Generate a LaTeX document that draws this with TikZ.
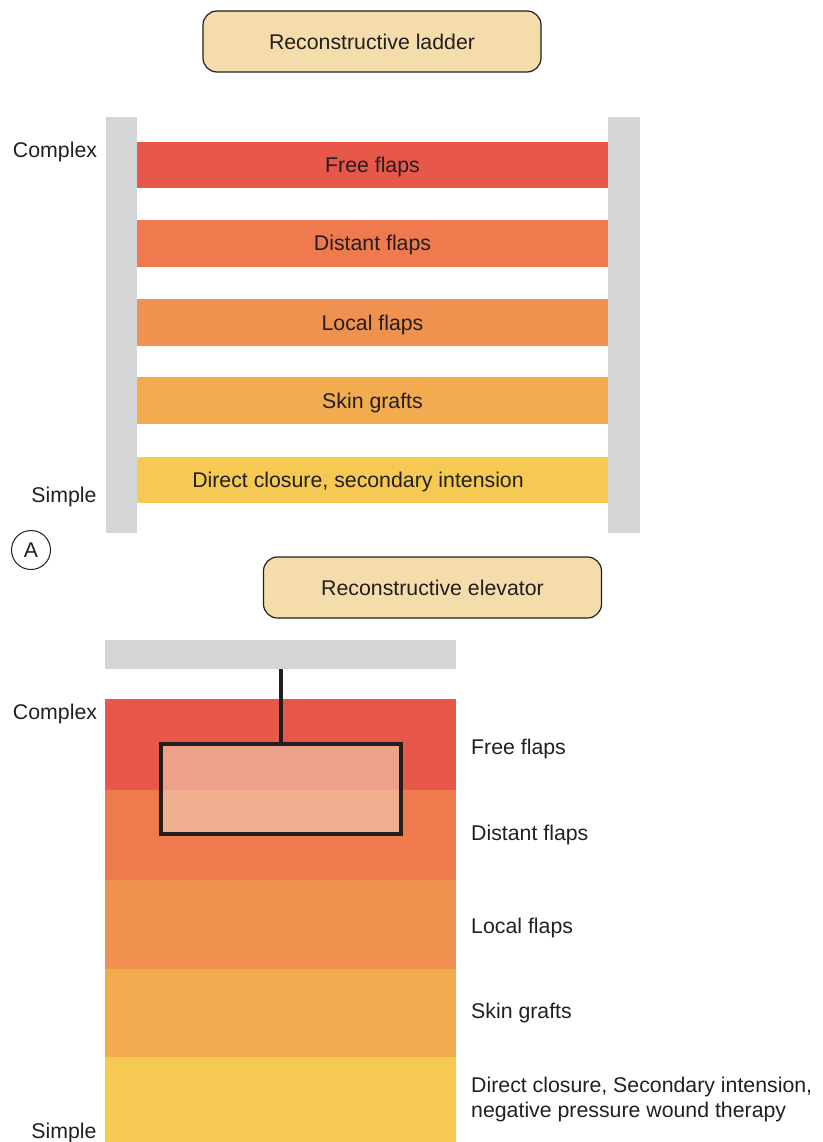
\documentclass[tikz,border=0pt]{standalone}
\usepackage{fontspec}
\setmainfont{Liberation Sans}
\begin{document}
\definecolor{txt}{HTML}{231F20}
\definecolor{rail}{HTML}{D4D5D7}
\definecolor{cfree}{HTML}{E8584A}
\definecolor{cdist}{HTML}{EE7A4E}
\definecolor{clocal}{HTML}{F0924F}
\definecolor{cskin}{HTML}{F3AB50}
\definecolor{cdirect}{HTML}{F5C952}
\definecolor{titlefill}{HTML}{F5DDAB}
\definecolor{carfree}{HTML}{EDA08A}
\definecolor{cardist}{HTML}{F0AF8E}
\begin{tikzpicture}[x=1pt,y=-1pt,
  every node/.style={text=txt,font=\fontsize{21.3}{25}\selectfont,inner sep=0pt},
  titlebox/.style={draw=txt,line width=1.2pt,fill=titlefill,rounded corners=14pt,
    minimum width=338pt,minimum height=61pt},
  railbar/.style={fill=rail},
  lbl/.style={anchor=west}]
\useasboundingbox (0,0) rectangle (822,1142);

% --- Ladder ---
\node[titlebox] (ladder) at (372,41.5) {Reconstructive ladder};
\fill[railbar] (106,117) rectangle (137,533);
\fill[railbar] (608,117) rectangle (640,533);
\fill[cfree]   (137,142) rectangle (608,188);
\fill[cdist]   (137,220) rectangle (608,267);
\fill[clocal]  (137,299) rectangle (608,346);
\fill[cskin]   (137,377) rectangle (608,424);
\fill[cdirect] (137,457) rectangle (608,503);
\node (r1) at (372.5,167) {Free flaps};
\node (r2) at (372.5,245) {Distant flaps};
\node (r3) at (372.5,324.5) {Local flaps};
\node (r4) at (372.5,402.5) {Skin grafts};
\node (r5) at (358,482) {Direct closure, secondary intension};
\node (c1) at (55,152) {Complex};
\node (s1) at (64,497) {Simple};
\node[draw=txt,circle,line width=1pt,minimum size=39pt] (A) at (31,550) {A};

% --- Elevator ---
\node[titlebox] (elev) at (432.5,587.5) {Reconstructive elevator};
\fill[railbar] (105,640) rectangle (456,669);
\coordinate (hook) at (281,669);
\fill[cfree]   (105,699) rectangle (456,789.5);
\fill[cdist]   (105,789.5) rectangle (456,880);
\fill[clocal]  (105,880) rectangle (456,969);
\fill[cskin]   (105,969) rectangle (456,1057);
\fill[cdirect] (105,1057) rectangle (456,1142);
\fill[carfree] (161,744) rectangle (401,789.5);
\fill[cardist] (161,789.5) rectangle (401,834);
\node[draw=txt,line width=3.6pt,minimum width=240pt,minimum height=90pt] (car) at (281,789) {};
\draw[txt,line width=3.6pt] (hook) -- (car.north);
\node (c2) at (55,714) {Complex};
\node (s2) at (64,1133) {Simple};
\node[lbl] (e1) at (471,749) {Free flaps};
\node[lbl] (e2) at (471,835) {Distant flaps};
\node[lbl] (e3) at (471,928) {Local flaps};
\node[lbl] (e4) at (471,1013) {Skin grafts};
\node[lbl,align=left] (e5) at (471,1099) {Direct closure, Secondary intension,\\negative pressure wound therapy};
\end{tikzpicture}
\end{document}
